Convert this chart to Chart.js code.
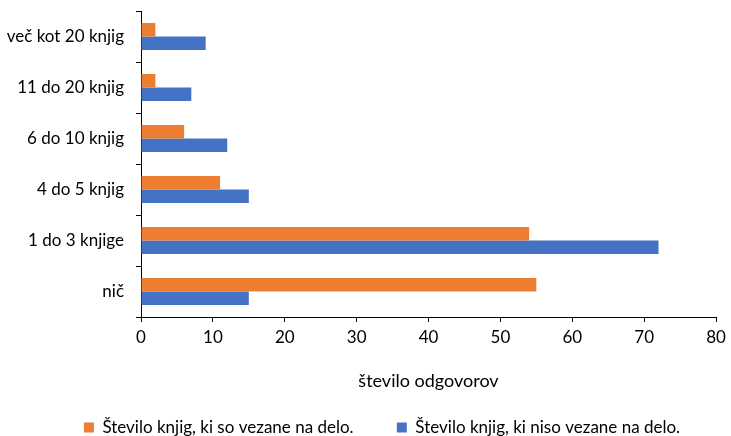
<!DOCTYPE html>
<html>
<head>
<meta charset="utf-8">
<script src="https://cdn.jsdelivr.net/npm/chart.js@4"></script>
<style>
  html, body { margin: 0; padding: 0; background: #fff; }
  #wrap { width: 731px; height: 436px; }
</style>
</head>
<body>
<div id="wrap"><canvas id="chart" width="731" height="436"></canvas></div>
<script>
  const categories = ["več kot 20 knjig", "11 do 20 knjig", "6 do 10 knjig", "4 do 5 knjig", "1 do 3 knjige", "nič"];
  const vezane = [2, 2, 6, 11, 54, 55];
  const niso = [9, 7, 12, 15, 72, 15];
  const seriesNames = ["Število knjig, ki so vezane na delo.", "Število knjig, ki niso vezane na delo."];

  const FONT = "Lato, 'Open Sans', sans-serif";
  const AXIS = "#000000";

  // the legend in the original sits a bit right of centre
  const legendShift = {
    id: "legendShift",
    afterLayout(chart) {
      if (chart.legend) chart.legend.left = 48;
    },
  };

  new Chart(document.getElementById("chart"), {
    type: "bar",
    data: {
      labels: categories,
      datasets: [
        { label: seriesNames[0], data: vezane, backgroundColor: "#ED7D31", borderWidth: 0 },
        { label: seriesNames[1], data: niso, backgroundColor: "#4472C4", borderWidth: 0 },
      ],
    },
    plugins: [legendShift],
    options: {
      indexAxis: "y",
      responsive: false,
      animation: false,
      categoryPercentage: 0.53,
      barPercentage: 1,
      layout: { padding: { top: 11, right: 15, left: 0, bottom: -10 } },
      plugins: {
        tooltip: { enabled: false },
        legend: {
          position: "bottom",
          labels: {
            color: "#000",
            font: { family: FONT, size: 17 },
            boxWidth: 10,
            boxHeight: 10,
            padding: 5,
            generateLabels: (chart) =>
              Chart.defaults.plugins.legend.labels.generateLabels(chart).map((item, i) => {
                if (i === 0) item.text = item.text + "\u2003\u2003\u2002\u2009\u2009";
                return item;
              }),
          },
        },
      },
      scales: {
        x: {
          min: 0,
          max: 80,
          ticks: { stepSize: 10, color: "#000", font: { family: FONT, size: 17 }, padding: 5 },
          grid: { display: true, drawOnChartArea: false, drawTicks: true, tickLength: 5, color: AXIS },
          border: { color: AXIS, width: 1 },
          title: { display: true, text: "število odgovorov", color: "#000", font: { family: FONT, size: 18 }, padding: { top: 10, bottom: 22 } },
          afterFit: (scale) => {
            scale.height = 97;
            scale.paddingLeft = 0;
            scale.paddingRight = 0;
          },
        },
        y: {
          ticks: { color: "#000", font: { family: FONT, size: 17 }, padding: 12 },
          grid: { offset: true, drawOnChartArea: false, tickLength: 5, color: AXIS },
          border: { color: AXIS, width: 1 },
          afterFit: (scale) => {
            scale.width = 141;
            scale.paddingTop = 0;
            scale.paddingBottom = 0;
          },
        },
      },
    },
  });
</script>
</body>
</html>
